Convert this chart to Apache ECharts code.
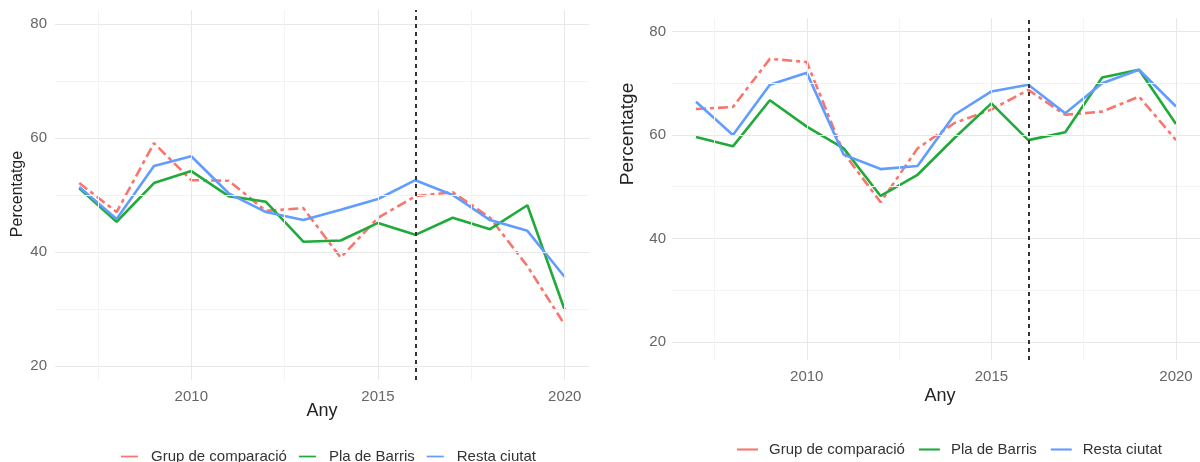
<!DOCTYPE html>
<html>
<head>
<meta charset="utf-8">
<script src="https://cdn.jsdelivr.net/npm/echarts@6/dist/echarts.min.js"></script>
<style>
  html, body { margin: 0; padding: 0; background: #fff; }
  #chart { width: 1200px; height: 462px; }
</style>
</head>
<body>
<div id="chart"></div>
<script>
// Years shared by both panels
const years = [2007, 2008, 2009, 2010, 2011, 2012, 2013, 2014, 2015, 2016, 2017, 2018, 2019, 2020];

// Left panel (percentatge)
const leftGrup  = [52.1, 47.0, 59.1, 52.6, 52.5, 47.2, 47.7, 39.0, 46.0, 49.8, 50.5, 46.0, 37.5, 27.2];
const leftPla   = [51.2, 45.3, 52.1, 54.2, 49.8, 48.8, 41.8, 42.0, 45.1, 43.0, 46.0, 44.0, 48.2, 29.8];
const leftResta = [51.4, 45.8, 55.1, 56.8, 50.3, 47.0, 45.6, 47.4, 49.3, 52.6, 50.0, 45.6, 43.7, 35.6];

// Right panel (percentatge)
const rightGrup  = [65.0, 65.4, 74.7, 74.1, 56.5, 47.0, 57.4, 62.3, 64.9, 68.7, 63.9, 64.5, 67.4, 59.0];
const rightPla   = [59.6, 57.8, 66.7, 61.6, 57.4, 48.2, 52.3, 59.4, 66.1, 59.0, 60.5, 71.1, 72.6, 62.1];
const rightResta = [66.4, 60.0, 69.7, 72.0, 56.2, 53.4, 54.0, 63.9, 68.4, 69.7, 64.2, 70.0, 72.6, 65.5];

// Axis ticks and reference year
const xTicks = [2010, 2015, 2020];
const xMinorTicks = [2007.5, 2012.5, 2017.5];
const yTicks = [20, 40, 60, 80];
const yMinorTicks = [30, 50, 70];
const interventionYear = 2016;

const seriesNames = ['Grup de comparació', 'Pla de Barris', 'Resta ciutat'];
const colors = ['#F8766D', '#1FAA3A', '#619CFF'];
const FONT = '"Liberation Sans", Arial, sans-serif';

const chart = echarts.init(document.getElementById('chart'));

function pairs(vals) { return years.map((y, i) => [y, vals[i]]); }

function gridLines(idx) {
  const major = { color: '#e8e8e8', width: 1, type: 'solid' };
  const minor = { color: '#f3f3f3', width: 1, type: 'solid' };
  const data = [];
  yTicks.forEach(v => data.push({ yAxis: v, lineStyle: major }));
  yMinorTicks.forEach(v => data.push({ yAxis: v, lineStyle: minor }));
  xTicks.forEach(v => data.push({ xAxis: v, lineStyle: major }));
  xMinorTicks.forEach(v => data.push({ xAxis: v, lineStyle: minor }));
  return {
    type: 'line', xAxisIndex: idx, yAxisIndex: idx, data: [], z: 0, silent: true,
    markLine: { silent: true, symbol: 'none', label: { show: false }, data, animation: false }
  };
}

function vline(idx) {
  return {
    type: 'line', xAxisIndex: idx, yAxisIndex: idx, data: [], z: 10, silent: true,
    markLine: {
      silent: true, symbol: 'none', label: { show: false }, animation: false,
      data: [{ xAxis: interventionYear }],
      lineStyle: { color: '#333', width: 2, type: [4, 4] }
    }
  };
}

function dataSeries(idx, vals, k) {
  return {
    name: seriesNames[k], type: 'line', xAxisIndex: idx, yAxisIndex: idx,
    data: pairs(vals), symbol: 'none', z: 3,
    lineStyle: { color: colors[k], width: 2.6, type: k === 0 ? [10, 4, 4, 4] : 'solid' },
    itemStyle: { color: colors[k] }
  };
}

function xAxis(idx) {
  return {
    type: 'value', gridIndex: idx, min: 2006.35, max: 2020.65,
    axisLine: { show: false }, axisTick: { show: false }, splitLine: { show: false },
    axisLabel: {
      customValues: xTicks, formatter: v => String(v),
      color: '#666', fontSize: 15, fontFamily: FONT, margin: 9
    }
  };
}

function yAxis(idx, min, max, margin) {
  return {
    type: 'value', gridIndex: idx, min, max,
    axisLine: { show: false }, axisTick: { show: false }, splitLine: { show: false },
    axisLabel: { customValues: yTicks, color: '#666', fontSize: 15, fontFamily: FONT, margin }
  };
}

function legend(left, top, iconW, textGap, gap) {
  return {
    left, top, orient: 'horizontal', itemWidth: iconW, itemHeight: 14, itemGap: gap,
    icon: 'path://M0,6 L20,6 L20,8 L0,8 Z',
    data: seriesNames.map((n, k) => ({ name: n, itemStyle: { color: colors[k] } })),
    textStyle: { color: '#333', fontSize: 15, fontFamily: FONT, padding: [0, 0, 0, textGap] },
    selectedMode: false
  };
}

const option = {
  backgroundColor: '#fff',
  animation: false,
  grid: [
    { left: 55, top: 10, width: 534, height: 370 },
    { left: 672, top: 18, width: 537, height: 342 }
  ],
  xAxis: [xAxis(0), xAxis(1)],
  yAxis: [yAxis(0, 17.5, 82.5, 8), yAxis(1, 16.5, 82.6, 6)],
  legend: [legend(116, 444, 17, 8, 12), legend(732, 437, 21, 6, 14)],
  graphic: [
    { type: 'text', x: 322, y: 411, style: { text: 'Any', fill: '#222', font: '18px ' + FONT, align: 'center', verticalAlign: 'middle' } },
    { type: 'text', x: 940, y: 396, style: { text: 'Any', fill: '#222', font: '18px ' + FONT, align: 'center', verticalAlign: 'middle' } },
    { type: 'text', x: 18, y: 194, rotation: Math.PI / 2, style: { text: 'Percentatge', fill: '#222', font: '16px ' + FONT, align: 'center', verticalAlign: 'middle' } },
    { type: 'text', x: 628, y: 134, rotation: Math.PI / 2, style: { text: 'Percentatge', fill: '#222', font: '19px ' + FONT, align: 'center', verticalAlign: 'middle' } }
  ],
  series: [
    gridLines(0), gridLines(1),
    dataSeries(0, leftGrup, 0), dataSeries(0, leftPla, 1), dataSeries(0, leftResta, 2),
    dataSeries(1, rightGrup, 0), dataSeries(1, rightPla, 1), dataSeries(1, rightResta, 2),
    vline(0), vline(1)
  ]
};

chart.setOption(option);
</script>
</body>
</html>
